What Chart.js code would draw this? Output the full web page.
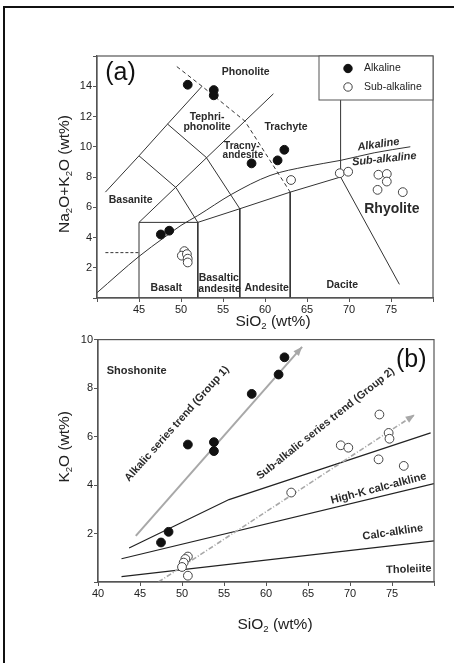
<!DOCTYPE html>
<html>
<head>
<meta charset="utf-8">
<script src="https://cdn.jsdelivr.net/npm/chart.js@4.4.1/dist/chart.umd.min.js"></script>
<style>
  html, body { margin: 0; padding: 0; background: #fff; overflow: hidden; }
  #page { position: relative; width: 454px; height: 663px; overflow: hidden; background: #fff; }
  #frame { position: absolute; left: 3px; top: 6px; width: 480px; height: 700px; border: 2px solid #111; }
  #tasChart { position: absolute; left: 0; top: 0; }
  #kChart { position: absolute; left: 0; top: 332px; }
</style>
</head>
<body>
<div id="page">
  <div id="frame"></div>
  <canvas id="tasChart" width="454" height="332"></canvas>
  <canvas id="kChart" width="454" height="331"></canvas>
</div>
<script>
// ---- (a) TAS diagram data ----
var alkSiO2a = [50.8, 53.9, 53.9, 58.4, 61.5, 62.3, 47.6, 48.6];
var alkTotal = [14.1, 13.75, 13.4, 8.9, 9.1, 9.8, 4.2, 4.45];
var subSiO2a = [63.1, 68.9, 69.9, 73.5, 74.5, 74.5, 73.4, 76.4, 50.4, 50.1, 50.7, 50.8, 50.8];
var subTotal = [7.8, 8.25, 8.35, 8.15, 8.2, 7.7, 7.15, 7.0, 3.1, 2.8, 2.9, 2.6, 2.35];

// TAS field boundaries (SiO2, Na2O+K2O)
var alkCurveX = [40, 45, 48, 50, 52, 56, 60.6, 65, 69, 73, 77.3];
var alkCurveY = [0.35, 2.75, 4.0, 4.8, 5.45, 6.85, 8.1, 8.7, 9.1, 9.6, 10.0];
var basaltBoxX = [45, 45, 52, 52];
var basaltBoxY = [0, 5, 5, 0];
var subLineX = [52, 57, 63, 69];
var subLineY = [5, 5.9, 7, 8];
var and57X = [57, 57];
var and57Y = [5.9, 0];
var dac63X = [63, 63];
var dac63Y = [7, 0];
var rhyX = [69, 76];
var rhyY = [8, 0.9];
var trc69X = [69, 69];
var trc69Y = [8, 13.1];
var foidX = [41, 45, 48.4, 52.5];
var foidY = [7, 9.4, 11.5, 14];
var tephX = [45, 61];
var tephY = [5, 13.5];
var crossAX = [45, 49.4, 52];
var crossAY = [9.4, 7.3, 5];
var crossBX = [48.4, 53, 57];
var crossBY = [11.5, 9.3, 5.9];
var phonoX = [49.5, 52.5, 57.6, 63];
var phonoY = [15.3, 14, 11.7, 7];
var picroX = [41, 45];
var picroY = [3, 3];

// ---- (b) K2O vs SiO2 data ----
var alkSiO2b = [62.2, 61.5, 58.3, 50.7, 53.8, 53.8, 48.4, 47.5];
var alkK2O = [9.27, 8.56, 7.76, 5.67, 5.77, 5.4, 2.07, 1.63];
var subSiO2b = [73.5, 74.6, 74.7, 68.9, 69.8, 73.4, 76.4, 63.0, 50.7, 50.4, 50.2, 50.0, 50.7];
var subK2O = [6.91, 6.15, 5.91, 5.64, 5.54, 5.06, 4.79, 3.69, 1.05, 0.95, 0.8, 0.62, 0.26];

var shoLineX = [43.7, 55.6, 79.6];
var shoLineY = [1.4, 3.4, 6.15];
var hkLineX = [42.8, 80];
var hkLineY = [0.96, 4.06];
var thLineX = [42.8, 80];
var thLineY = [0.22, 1.7];
var trend1X = [44.5, 64.3];
var trend1Y = [1.9, 9.7];
var trend2X = [47.2, 77.7];
var trend2Y = [0.0, 6.9];

var FONT = '"Liberation Sans", Arial, sans-serif';
Chart.defaults.font.family = FONT;
Chart.defaults.color = '#222';

function pts(xs, ys) {
  return xs.map(function (x, i) { return { x: x, y: ys[i] }; });
}

function pointSet(xs, ys, filled) {
  return {
    type: 'scatter', data: pts(xs, ys), order: 0,
    pointRadius: 4.4, pointHoverRadius: 4.4,
    backgroundColor: filled ? '#111' : '#fff',
    borderColor: filled ? '#111' : '#444',
    borderWidth: 1
  };
}

function lineSet(xs, ys, dash, color, width, smooth) {
  return {
    type: 'line', data: pts(xs, ys), order: 2,
    showLine: true, pointRadius: 0, fill: false,
    borderColor: color || '#333', borderWidth: width || 1,
    borderDash: dash || [],
    cubicInterpolationMode: smooth ? 'monotone' : 'default',
    tension: smooth ? 0.4 : 0
  };
}

// text with "_2" style subscripts
function drawRich(ctx, text, x, y, size, rot, weight, style, color) {
  var parts = [];
  text.split(/(_\d)/).forEach(function (s) {
    if (!s) return;
    if (s.charAt(0) === '_') parts.push({ t: s.slice(1), sub: true });
    else parts.push({ t: s, sub: false });
  });
  var fontFor = function (p) {
    return (style || 'normal') + ' ' + (weight || 'normal') + ' ' + (p.sub ? size * 0.62 : size) + 'px ' + FONT;
  };
  var widths = parts.map(function (p) { ctx.font = fontFor(p); return ctx.measureText(p.t).width; });
  var total = widths.reduce(function (a, b) { return a + b; }, 0);
  ctx.save();
  ctx.translate(x, y);
  ctx.rotate(rot || 0);
  ctx.fillStyle = color || '#222';
  ctx.textAlign = 'left';
  ctx.textBaseline = 'middle';
  var cx = -total / 2;
  parts.forEach(function (p, i) {
    ctx.font = fontFor(p);
    ctx.fillText(p.t, cx, p.sub ? size * 0.3 : 0);
    cx += widths[i];
  });
  ctx.restore();
}

var decor = {
  id: 'decor',
  afterDatasetsDraw: function (chart, args, opts) {
    var ctx = chart.ctx, a = chart.chartArea;
    var xs = chart.scales.x, ys = chart.scales.y;
    ctx.save();
    // arrow heads on trend lines
    chart.data.datasets.forEach(function (ds, i) {
      if (!ds.arrowHead) return;
      var d = chart.getDatasetMeta(i).data;
      var p1 = d[d.length - 2], p2 = d[d.length - 1];
      var ang = Math.atan2(p2.y - p1.y, p2.x - p1.x);
      var L = 9, W = 3.6;
      ctx.fillStyle = ds.borderColor;
      ctx.beginPath();
      ctx.moveTo(p2.x, p2.y);
      ctx.lineTo(p2.x - L * Math.cos(ang) + W * Math.sin(ang), p2.y - L * Math.sin(ang) - W * Math.cos(ang));
      ctx.lineTo(p2.x - L * Math.cos(ang) - W * Math.sin(ang), p2.y - L * Math.sin(ang) + W * Math.cos(ang));
      ctx.closePath();
      ctx.fill();
    });
    // plot frame
    ctx.strokeStyle = '#555';
    ctx.lineWidth = 1.2;
    ctx.strokeRect(a.left, a.top, a.right - a.left, a.bottom - a.top);
    // field labels
    (opts.notes || []).forEach(function (n) {
      drawRich(ctx, n.t, xs.getPixelForValue(n.x), ys.getPixelForValue(n.y), n.size,
        (n.rot || 0) * Math.PI / 180, n.weight || 'bold', n.style, n.color || '#2a2a2a');
    });
    // axis titles
    drawRich(ctx, opts.xTitle, (a.left + a.right) / 2 + opts.xShift, a.bottom + opts.xGap, 15.5, 0);
    drawRich(ctx, opts.yTitle, a.left - opts.yGap, (a.top + a.bottom) / 2 + opts.yShift, 15.5, -Math.PI / 2);
    // legend box
    if (opts.legend) {
      var lx = a.right - 114, ly = a.top, lw = 114, lh = 44;
      ctx.fillStyle = '#fff';
      ctx.fillRect(lx, ly, lw, lh);
      ctx.strokeStyle = '#555';
      ctx.lineWidth = 1;
      ctx.strokeRect(lx, ly, lw, lh);
      opts.legend.forEach(function (item, k) {
        var cy = ly + 12.5 + k * 18.5;
        ctx.beginPath();
        ctx.arc(lx + 29, cy, 4.2, 0, Math.PI * 2);
        ctx.fillStyle = item.fill;
        ctx.fill();
        ctx.strokeStyle = item.stroke;
        ctx.lineWidth = 1;
        ctx.stroke();
        ctx.fillStyle = '#222';
        ctx.font = '10.5px ' + FONT;
        ctx.textAlign = 'left';
        ctx.textBaseline = 'middle';
        ctx.fillText(item.label, lx + 45, cy);
      });
    }
    ctx.restore();
  }
};

function axes(yMax, xLabelMin, xH, yW) {
  var tickFont = { size: 11, family: FONT };
  return {
    x: {
      type: 'linear', min: 40, max: 80, position: 'bottom',
      ticks: {
        stepSize: 5, autoSkip: false, maxRotation: 0, padding: 1, color: '#222', font: tickFont,
        callback: function (v) { return (v >= xLabelMin && v <= 75) ? v : ''; }
      },
      grid: { drawOnChartArea: false, drawTicks: true, tickLength: 4, color: '#555' },
      border: { color: '#555', width: 1.2 },
      afterFit: function (s) { s.height = xH; }
    },
    y: {
      type: 'linear', min: 0, max: yMax,
      ticks: {
        stepSize: 2, autoSkip: false, padding: 1, color: '#222', font: tickFont,
        callback: function (v) { return (v > 0 && (yMax === 10 ? v <= 10 : v < yMax)) ? v : ''; }
      },
      grid: { drawOnChartArea: false, drawTicks: true, tickLength: 4, color: '#555' },
      border: { color: '#555', width: 1.2 },
      afterFit: function (s) { s.width = yW; }
    }
  };
}

// ---- chart (a) ----
new Chart(document.getElementById('tasChart').getContext('2d'), {
  type: 'scatter',
  data: {
    datasets: [
      pointSet(alkSiO2a, alkTotal, true),
      pointSet(subSiO2a, subTotal, false),
      lineSet(alkCurveX, alkCurveY, null, '#333', 1, true),
      lineSet(basaltBoxX, basaltBoxY),
      lineSet(subLineX, subLineY),
      lineSet(and57X, and57Y),
      lineSet(dac63X, dac63Y),
      lineSet(rhyX, rhyY),
      lineSet(trc69X, trc69Y),
      lineSet(foidX, foidY),
      lineSet(tephX, tephY),
      lineSet(crossAX, crossAY),
      lineSet(crossBX, crossBY),
      lineSet(phonoX, phonoY, [4, 3]),
      lineSet(picroX, picroY, [3, 2])
    ]
  },
  options: {
    responsive: false, animation: false, events: [],
    layout: { padding: { left: 0, top: 56, right: 21, bottom: 0 } },
    scales: axes(16, 45, 34, 97),
    plugins: {
      legend: { display: false }, tooltip: { enabled: false },
      decor: {
        xTitle: 'SiO_2 (wt%)', yTitle: 'Na_2O+K_2O (wt%)',
        xGap: 24, xShift: 8, yGap: 32, yShift: -3,
        legend: [
          { label: 'Alkaline', fill: '#111', stroke: '#111' },
          { label: 'Sub-alkaline', fill: '#fff', stroke: '#444' }
        ],
        notes: [
          { t: '(a)', x: 42.8, y: 14.9, size: 25, weight: 'normal', color: '#111' },
          { t: 'Phonolite', x: 57.7, y: 14.95, size: 10.5 },
          { t: 'Tephri-', x: 53.1, y: 11.97, size: 10.5 },
          { t: 'phonolite', x: 53.1, y: 11.27, size: 10.5 },
          { t: 'Trachyte', x: 62.5, y: 11.31, size: 10.5 },
          { t: 'Tracny-', x: 57.25, y: 10.06, size: 10 },
          { t: 'andesite', x: 57.37, y: 9.45, size: 10 },
          { t: 'Basanite', x: 44.0, y: 6.47, size: 10.5 },
          { t: 'Basalt', x: 48.25, y: 0.64, size: 10.5 },
          { t: 'Basaltic', x: 54.5, y: 1.3, size: 10.5 },
          { t: 'andesite', x: 54.6, y: 0.57, size: 10.5 },
          { t: 'Andesite', x: 60.2, y: 0.64, size: 10.5 },
          { t: 'Dacite', x: 69.2, y: 0.86, size: 10.5 },
          { t: 'Rhyolite', x: 75.1, y: 5.86, size: 14 },
          { t: 'Alkaline', x: 73.5, y: 10.15, size: 11, style: 'italic', rot: -8 },
          { t: 'Sub-alkaline', x: 74.2, y: 9.18, size: 11, style: 'italic', rot: -6 }
        ]
      }
    }
  },
  plugins: [decor]
});

// ---- chart (b) ----
var t1 = lineSet(trend1X, trend1Y, null, '#a8a8a8', 2);
t1.arrowHead = true; t1.order = 1;
var t2 = lineSet(trend2X, trend2Y, [5, 2, 1, 2], '#a8a8a8', 1.6);
t2.arrowHead = true; t2.order = 1;

new Chart(document.getElementById('kChart').getContext('2d'), {
  type: 'scatter',
  data: {
    datasets: [
      pointSet(alkSiO2b, alkK2O, true),
      pointSet(subSiO2b, subK2O, false),
      t1, t2,
      lineSet(shoLineX, shoLineY, null, '#222', 1.2),
      lineSet(hkLineX, hkLineY, null, '#222', 1.2),
      lineSet(thLineX, thLineY, null, '#222', 1.2)
    ]
  },
  options: {
    responsive: false, animation: false, events: [],
    layout: { padding: { left: 0, top: 7, right: 20, bottom: 0 } },
    scales: axes(10, 40, 81, 98),
    plugins: {
      legend: { display: false }, tooltip: { enabled: false },
      decor: {
        xTitle: 'SiO_2 (wt%)', yTitle: 'K_2O (wt%)',
        xGap: 43, xShift: 9, yGap: 33, yShift: -14,
        notes: [
          { t: '(b)', x: 77.3, y: 9.14, size: 25, weight: 'normal', color: '#111' },
          { t: 'Shoshonite', x: 44.6, y: 8.72, size: 11 },
          { t: 'Alkalic series trend (Group 1)', x: 49.4, y: 6.53, size: 10.8, rot: -48.3 },
          { t: 'Sub-alkalic series trend (Group 2)', x: 67.1, y: 6.53, size: 10.8, rot: -38.5 },
          { t: 'High-K calc-alkline', x: 73.4, y: 3.86, size: 11, rot: -14.6 },
          { t: 'Calc-alkline', x: 75.1, y: 2.05, size: 11, rot: -8.5 },
          { t: 'Tholeiite', x: 77.0, y: 0.52, size: 11, rot: -2 }
        ]
      }
    }
  },
  plugins: [decor]
});
</script>
</body>
</html>
